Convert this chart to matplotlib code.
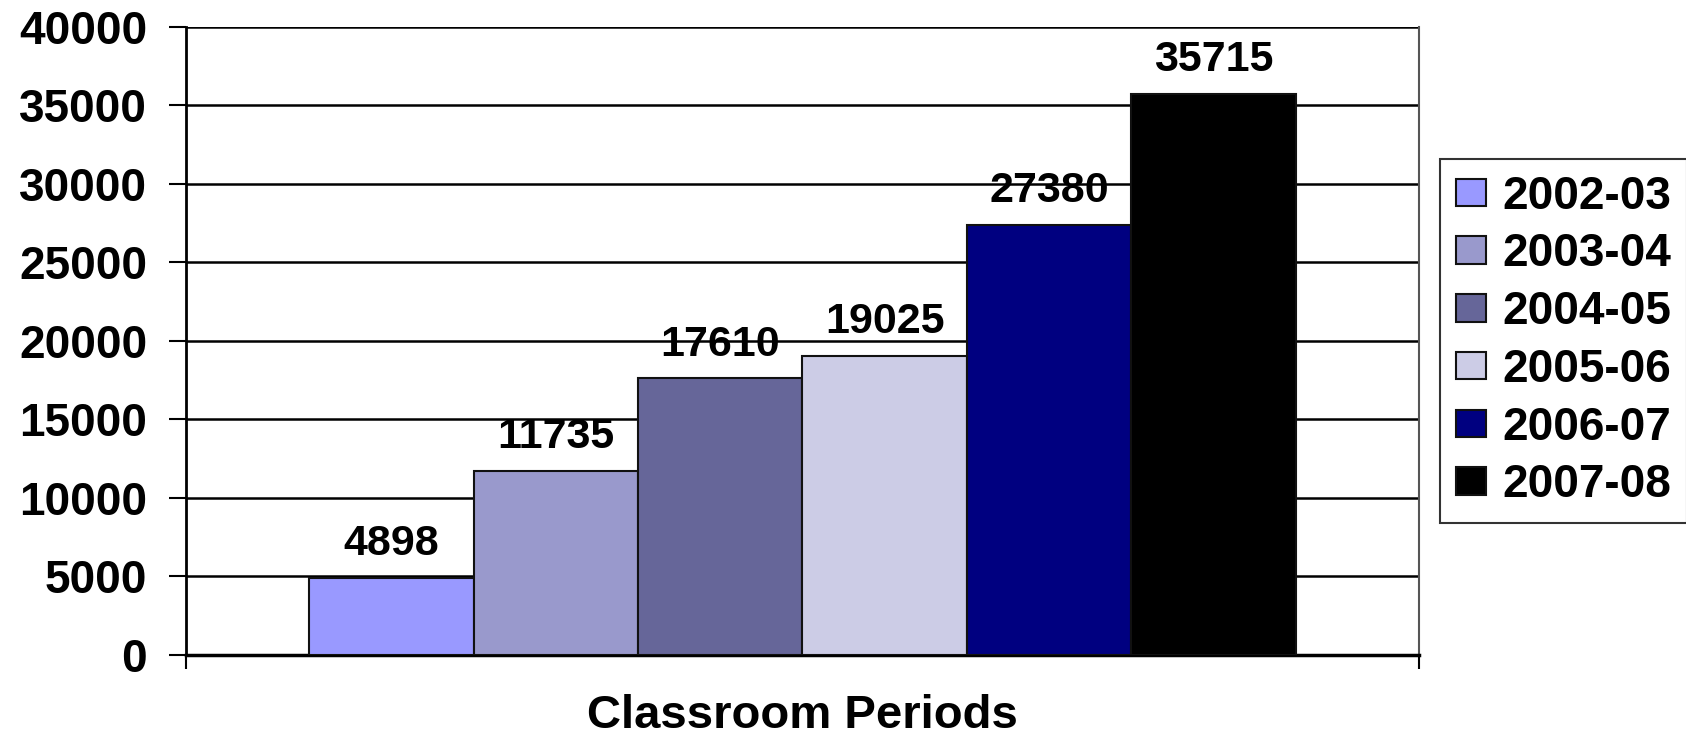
import numpy as np
import matplotlib.pyplot as plt

plt.rcParams['font.family'] = ['Liberation Sans', 'DejaVu Sans']
plt.rcParams['font.weight'] = 'bold'

# data
years = ["2002-03", "2003-04", "2004-05", "2005-06", "2006-07", "2007-08"]
periods = [4898, 11735, 17610, 19025, 27380, 35715]
colors = ["#9999FF", "#9999CC", "#666699", "#CCCCE6", "#000080", "#000000"]
y_ticks = [0, 5000, 10000, 15000, 20000, 25000, 30000, 35000, 40000]

fig = plt.figure(figsize=(16.86, 7.37), dpi=100)
ax = fig.add_axes([0.1103, 0.1113, 0.7313, 0.8521])

# one category, six series side by side (gap width 150%)
n = len(years)
x = np.arange(n) - (n - 1) / 2
for xi, v, c, lab in zip(x, periods, colors, years):
    ax.bar(xi, v, width=1.0, color=c, edgecolor='#111111', linewidth=1.5,
           label=lab, zorder=3)
    ax.annotate(str(v), (xi, v), xytext=(0, 10), textcoords='offset points',
                ha='center', va='bottom', fontsize=31, fontweight='bold')

ax.set_xlim(-n / 2 - 0.75, n / 2 + 0.75)
ax.set_ylim(0, 40000)
ax.set_yticks(y_ticks)
ax.set_yticklabels([str(t) for t in y_ticks])
ax.tick_params(axis='y', direction='out', length=12, width=1.5, pad=16,
               labelsize=33)
ax.set_xticks([-n / 2 - 0.75, n / 2 + 0.75])
ax.set_xticklabels(['', ''])
ax.tick_params(axis='x', direction='out', length=10, width=1.5)
for lbl in ax.get_yticklabels():
    lbl.set_fontweight('bold')

ax.grid(axis='y', color='black', linewidth=1.8, zorder=0)
ax.set_axisbelow(True)

ax.spines['top'].set_visible(False)
ax.spines['left'].set_linewidth(2)
ax.spines['bottom'].set_linewidth(2.5)
ax.spines['right'].set_color('#555555')
ax.spines['right'].set_linewidth(1.5)

ax.set_xlabel('Classroom Periods', fontsize=34, fontweight='bold', va='center')
ax.xaxis.set_label_coords(0.5, -0.097)

leg = ax.legend(loc='center left', bbox_to_anchor=(1.017, 0.5),
                fontsize=33, frameon=True, fancybox=False, edgecolor='black',
                handlelength=0.66, handleheight=0.55, handletextpad=0.35,
                labelspacing=0.3, borderpad=0.35, borderaxespad=0)
leg.get_frame().set_linewidth(1.5)
for t in leg.get_texts():
    t.set_fontweight('bold')

fig.savefig('out.png', dpi=100)
